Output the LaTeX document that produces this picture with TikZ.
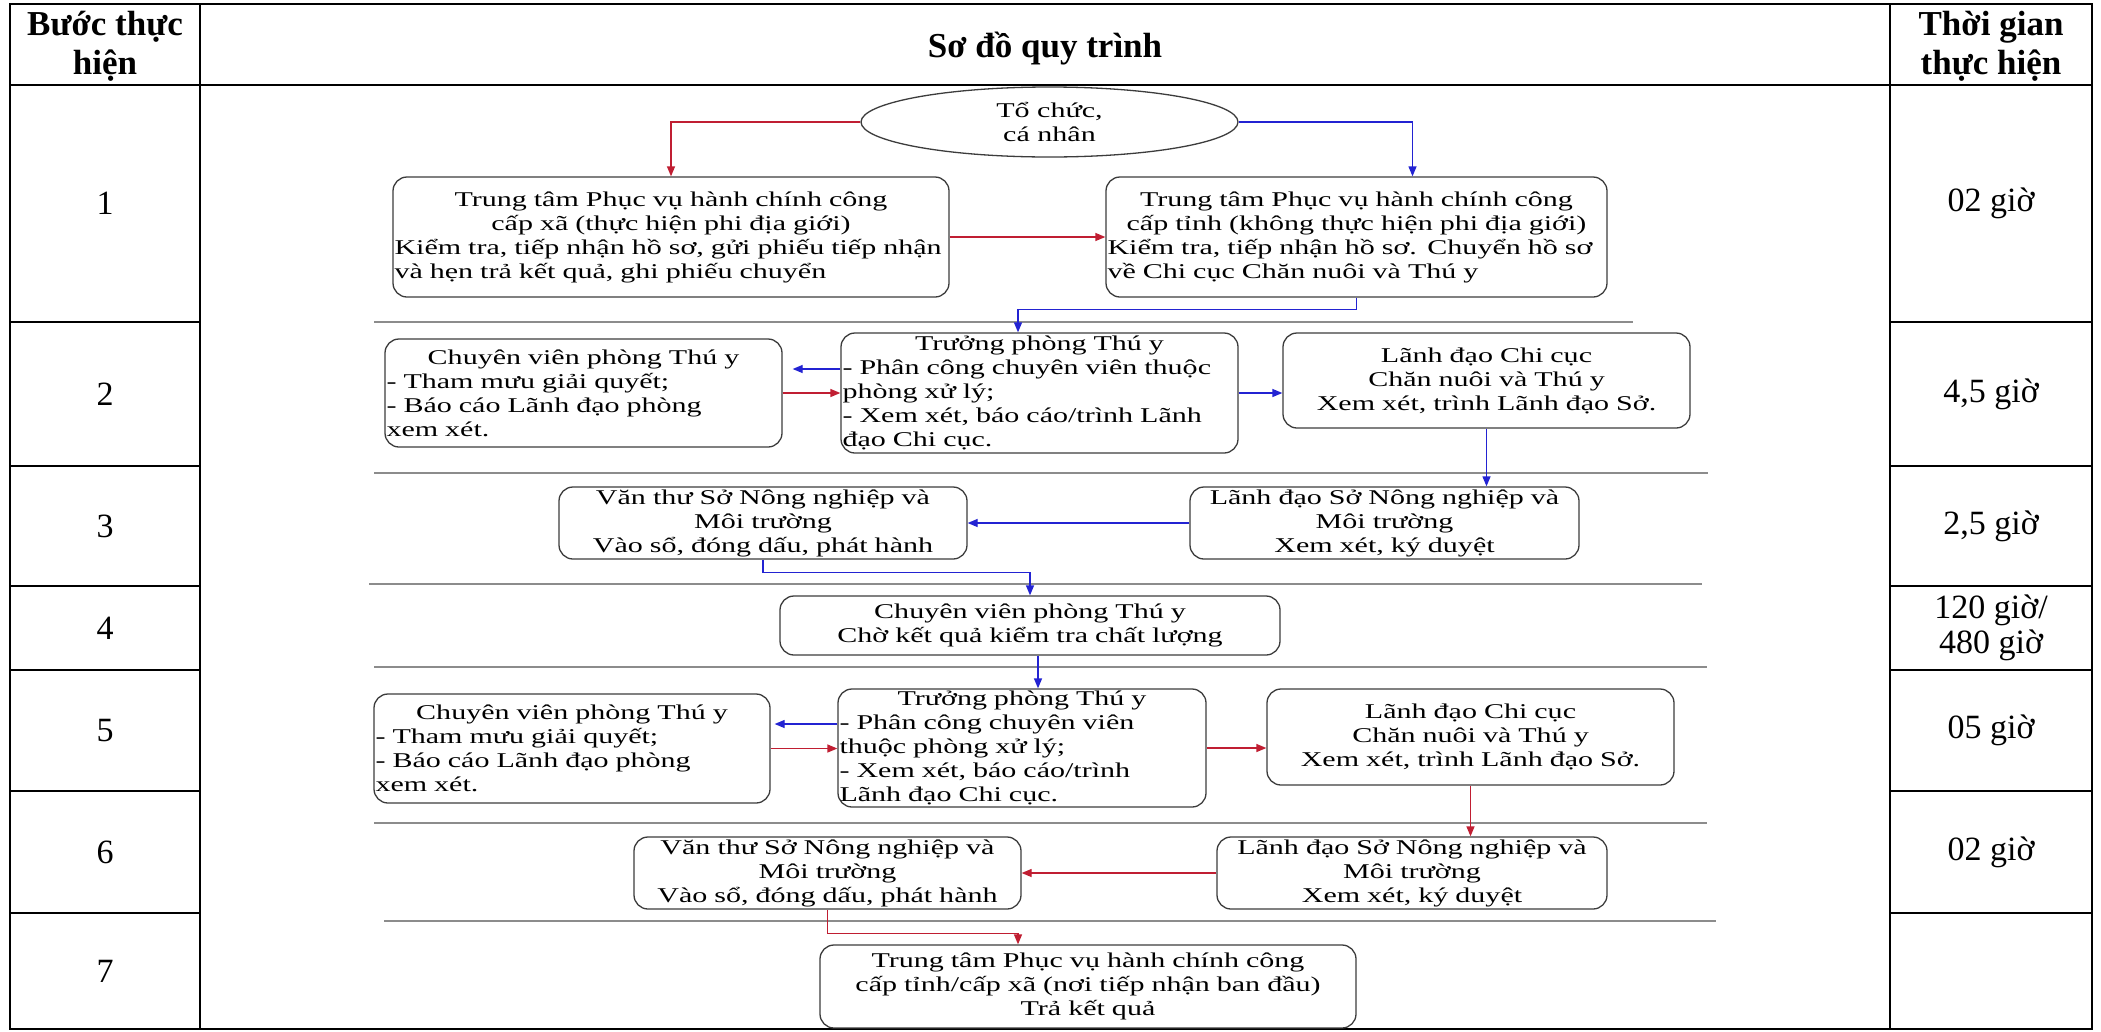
\documentclass[tikz,border=0pt]{standalone}
\usepackage{fontspec}
\setmainfont{Liberation Serif}
\newfontfamily\flowfont[FakeStretch=1.43]{Liberation Serif}
\usetikzlibrary{shapes.geometric,arrows.meta}
\definecolor{fred}{RGB}{192,30,50}
\definecolor{fblue}{RGB}{35,35,210}
\definecolor{bordgray}{RGB}{60,60,60}
\definecolor{sepgray}{RGB}{140,140,140}
\newcommand\cl[1]{\makebox[\linewidth][c]{#1}}
\newcommand\jl[1]{\makebox[\linewidth][s]{#1}}
\begin{document}
\begin{tikzpicture}[x=1pt,y=-1pt,
  tline/.style={line width=2.2pt,black},
  sepline/.style={line width=2.2pt,sepgray},
  hdr/.style={font=\fontsize{35}{39}\selectfont\bfseries,align=center,inner sep=0pt},
  cell/.style={font=\fontsize{34}{35}\selectfont,align=center,inner sep=0pt},
  fbox/.style={draw=bordgray,line width=1.3pt,rounded corners=14pt,inner xsep=1.5pt,inner ysep=0pt,
     font=\fontsize{21}{24}\selectfont\flowfont,align=left},
  fb/.style 2 args={fbox,minimum width=#1,minimum height=#2,text width=#1-3},
  redarr/.style={draw=fred,line width=1.3pt,-{Triangle[length=10pt,width=8pt]}},
  bluearr/.style={draw=fblue,line width=1.3pt,-{Triangle[length=10pt,width=8pt]}},
]
\useasboundingbox (0,0) rectangle (2101,1031);
\fill[white] (0,0) rectangle (2101,1031);

% ---------- table ----------
\draw[tline] (10,4) rectangle (2092,1029);
\draw[tline] (200,4) -- (200,1029);
\draw[tline] (1890,4) -- (1890,1029);
\draw[tline] (10,85) -- (2092,85);
\foreach \yy in {322,466,586,670,791,913}{
  \draw[tline] (10,\yy) -- (200,\yy);
  \draw[tline] (1890,\yy) -- (2092,\yy);
}

\node[hdr] (h1) at (105,46) {Bước thực\\hiện};
\node[hdr,anchor=base] (h2) at (1045,57) {Sơ đồ quy trình};
\node[hdr] (h3) at (1991,46) {Thời gian\\thực hiện};

\node[cell] (n1) at (105,203.5) {1};
\node[cell] (n2) at (105,394) {2};
\node[cell] (n3) at (105,526) {3};
\node[cell] (n4) at (105,628) {4};
\node[cell] (n5) at (105,730.5) {5};
\node[cell] (n6) at (105,852) {6};
\node[cell] (n7) at (105,971) {7};

\node[cell] (g1) at (1991,203.5) {02 giờ};
\node[cell] (g2) at (1991,394) {4,5 giờ};
\node[cell] (g3) at (1991,526) {2,5 giờ};
\node[cell] (g4) at (1991,628) {120 giờ/\\480 giờ};
\node[cell] (g5) at (1991,730.5) {05 giờ};
\node[cell] (g6) at (1991,852) {02 giờ};

% ---------- separators ----------
\draw[sepline] (374,322) -- (1633,322);
\draw[sepline] (374,473) -- (1708,473);
\draw[sepline] (369,584) -- (1702,584);
\draw[sepline] (374,667) -- (1707,667);
\draw[sepline] (374,823) -- (1707,823);
\draw[sepline] (384,921) -- (1716,921);

% ---------- flowchart nodes ----------
\node[draw=bordgray,line width=1.3pt,ellipse,minimum width=377,minimum height=70,inner sep=0pt,
      font=\fontsize{21}{24}\selectfont\flowfont,align=center] (e0) at (1049.5,122) {Tổ chức,\\cá nhân};

\node[fb={556}{120}] (b1) at (671,237) {\cl{Trung tâm Phục vụ hành chính công}\\
\cl{cấp xã (thực hiện phi địa giới)}\\
\jl{Kiểm tra, tiếp nhận hồ sơ, gửi phiếu tiếp nhận}\\
và hẹn trả kết quả, ghi phiếu chuyển};

\node[fb={501}{120}] (b2) at (1356.5,237) {\cl{Trung tâm Phục vụ hành chính công}\\
\cl{cấp tỉnh (không thực hiện phi địa giới)}\\
\jl{Kiểm tra, tiếp nhận hồ sơ. Chuyển hồ sơ}\\
về Chi cục Chăn nuôi và Thú y};

\node[fb={397}{108}] (c2) at (583.5,393) {\cl{Chuyên viên phòng Thú y}\\
- Tham mưu giải quyết;\\
- Báo cáo Lãnh đạo phòng\\
xem xét.};

\node[fb={397}{120}] (t2) at (1039.5,393) {\cl{Trưởng phòng Thú y}\\
\jl{- Phân công chuyên viên thuộc}\\
phòng xử lý;\\
\jl{- Xem xét, báo cáo/trình Lãnh}\\
đạo Chi cục.};

\node[fb={407}{95},align=center] (l2) at (1486.5,380.5) {Lãnh đạo Chi cục\\Chăn nuôi và Thú y\\Xem xét, trình Lãnh đạo Sở.};

\node[fb={408}{72},align=center] (v3) at (763,523) {Văn thư Sở Nông nghiệp và\\Môi trường\\Vào sổ, đóng dấu, phát hành};

\node[fb={389}{72},align=center] (s3) at (1384.5,523) {Lãnh đạo Sở Nông nghiệp và\\Môi trường\\Xem xét, ký duyệt};

\node[fb={500}{59},align=center] (c4) at (1030,625.5) {Chuyên viên phòng Thú y\\Chờ kết quả kiểm tra chất lượng};

\node[fb={396}{109}] (c5) at (572,748.5) {\cl{Chuyên viên phòng Thú y}\\
- Tham mưu giải quyết;\\
- Báo cáo Lãnh đạo phòng\\
xem xét.};

\node[fb={368}{118}] (t5) at (1022,748) {\cl{Trưởng phòng Thú y}\\
\jl{- Phân công chuyên viên}\\
thuộc phòng xử lý;\\
\jl{- Xem xét, báo cáo/trình}\\
Lãnh đạo Chi cục.};

\node[fb={407}{96},align=center] (l5) at (1470.5,737) {Lãnh đạo Chi cục\\Chăn nuôi và Thú y\\Xem xét, trình Lãnh đạo Sở.};

\node[fb={387}{72},align=center] (v6) at (827.5,873) {Văn thư Sở Nông nghiệp và\\Môi trường\\Vào sổ, đóng dấu, phát hành};

\node[fb={390}{72},align=center] (s6) at (1412,873) {Lãnh đạo Sở Nông nghiệp và\\Môi trường\\Xem xét, ký duyệt};

\node[fb={536}{83},align=center] (r7) at (1088,986.5) {Trung tâm Phục vụ hành chính công\\cấp tỉnh/cấp xã (nơi tiếp nhận ban đầu)\\Trả kết quả};

% ---------- connectors ----------
\coordinate (t2a) at ([yshift=24pt]t2.west);
\coordinate (t5a) at ([yshift=24pt]t5.west);
\coordinate (c4a) at ([xshift=8pt]c4.south);

\draw[redarr] (e0.west) -| (b1.north);
\draw[bluearr] (e0.east) -| ([xshift=56pt]b2.north);
\draw[redarr] (b1.east) -- (b2.west);
\draw[bluearr] (b2.south) -- ++(0,12) -| ([xshift=-21.5pt]t2.north);

\draw[bluearr,shorten >=10pt] (t2a) -- (t2a -| c2.east);
\draw[redarr] (c2.east) -- (c2.east -| t2.west);
\draw[bluearr] (t2.east) -- (t2.east -| l2.west);
\draw[bluearr] (l2.south) -- (l2.south |- s3.north);

\draw[bluearr] (s3.west) -- (v3.east);
\draw[bluearr] (v3.south) -- ++(0,13) -| (c4.north);

\draw[bluearr] (c4a) -- (c4a |- t5.north);

\draw[bluearr,shorten >=4pt] (t5a) -- (t5a -| c5.east);
\draw[redarr] (c5.east) -- (c5.east -| t5.west);
\draw[redarr] (t5.east) -- (t5.east -| l5.west);
\draw[redarr] (l5.south) -- (l5.south |- s6.north);

\draw[redarr] (s6.west) -- (v6.east);
\draw[redarr] (v6.south) -- ++(0,24) -| ([xshift=-70pt]r7.north);
\end{tikzpicture}
\end{document}
